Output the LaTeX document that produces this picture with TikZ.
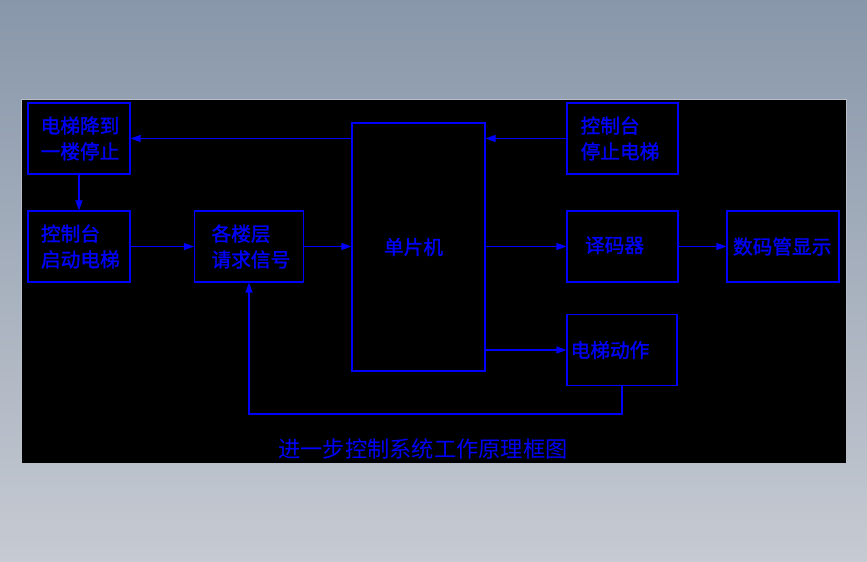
\documentclass[tikz,border=0pt]{standalone}
\usepackage{fontspec}
\newfontfamily\cjk{Noto Sans CJK SC}
\newfontfamily\cjkheavy[FakeBold=1.3]{Noto Sans CJK SC}
\usetikzlibrary{arrows.meta,positioning}
\definecolor{PanelBlue}{RGB}{0,0,250}
\definecolor{SkyTop}{RGB}{136,151,170}
\definecolor{SkyBottom}{RGB}{198,202,210}
\definecolor{PanelEdge}{RGB}{185,190,200}
\tikzset{
  box/.style={draw=PanelBlue,line width=0.9pt,text=PanelBlue,align=left,
    minimum height=2.13cm,inner ysep=0pt,
    font=\cjkheavy\fontsize{16.8pt}{22pt}\selectfont},
  arrow/.style={-{Triangle[length=0.3cm,width=0.21cm]},line width=0.9pt,PanelBlue},
  line/.style={line width=0.9pt,PanelBlue}
}
\begin{document}
\begin{tikzpicture}[x=0.03cm,y=-0.03cm]
  \useasboundingbox (0,0) rectangle (867,562);
  \shade[top color=SkyTop,bottom color=SkyBottom] (0,0) rectangle (867,562);
  \filldraw[fill=black,draw=PanelEdge,line width=0.4pt] (21,99) rectangle (846,463);
  % left column
  \node[box,minimum width=3.06cm,inner xsep=0.38cm,text width=2.30cm] (stopone)
    at (79,138.5) {电梯降到\\一楼停止};
  \node[box,minimum width=3.06cm,inner xsep=0.39cm,text width=2.28cm] (start)
    at (79,246.5) {控制台\\启动电梯};
  \node[box,minimum width=3.27cm,inner xsep=0.51cm,text width=2.25cm] (request)
    at (249,246.5) {各楼层\\请求信号};
  % controller
  \node[box,minimum width=3.99cm,minimum height=7.44cm,inner xsep=0.96cm,
    text width=2.07cm] (mcu) at (418.5,247) {单片机};
  % right column
  \node[box,minimum width=3.33cm,inner xsep=0.41cm,text width=2.51cm] (stopdesk)
    at (622.5,138.5) {控制台\\停止电梯};
  \node[box,minimum width=3.33cm,inner xsep=0.54cm,text width=2.25cm] (decoder)
    at (622.5,246.5) {\raisebox{0.12cm}{译码器}};
  \node[box,minimum width=3.36cm,inner xsep=0.18cm,text width=3.0cm] (display)
    at (783,246.5) {数码管显示};
  \node[box,minimum width=3.3cm,inner xsep=0.11cm,text width=3.08cm] (action)
    at (622,350) {电梯动作};
  \coordinate (loop) at (249,414);
  % connectors
  \draw[arrow] (mcu.west |- stopone.east) -- (stopone.east);
  \draw[arrow] (stopdesk.west) -- (mcu.east |- stopdesk.west);
  \draw[arrow] (stopone.south) -- (start.north);
  \draw[arrow] (start.east) -- (request.west);
  \draw[arrow] (request.east) -- (mcu.west |- request.east);
  \draw[arrow] (mcu.east |- decoder.west) -- (decoder.west);
  \draw[arrow] (decoder.east) -- (display.west);
  \draw[arrow] (mcu.east |- action.west) -- (action.west);
  \draw[arrow] (action.south) |- (loop) -- (request.south);
  \node[text=PanelBlue,font=\cjk\fontsize{19pt}{22pt}\selectfont] (title) at (423,449)
    {进一步控制系统工作原理框图};
\end{tikzpicture}
\end{document}
